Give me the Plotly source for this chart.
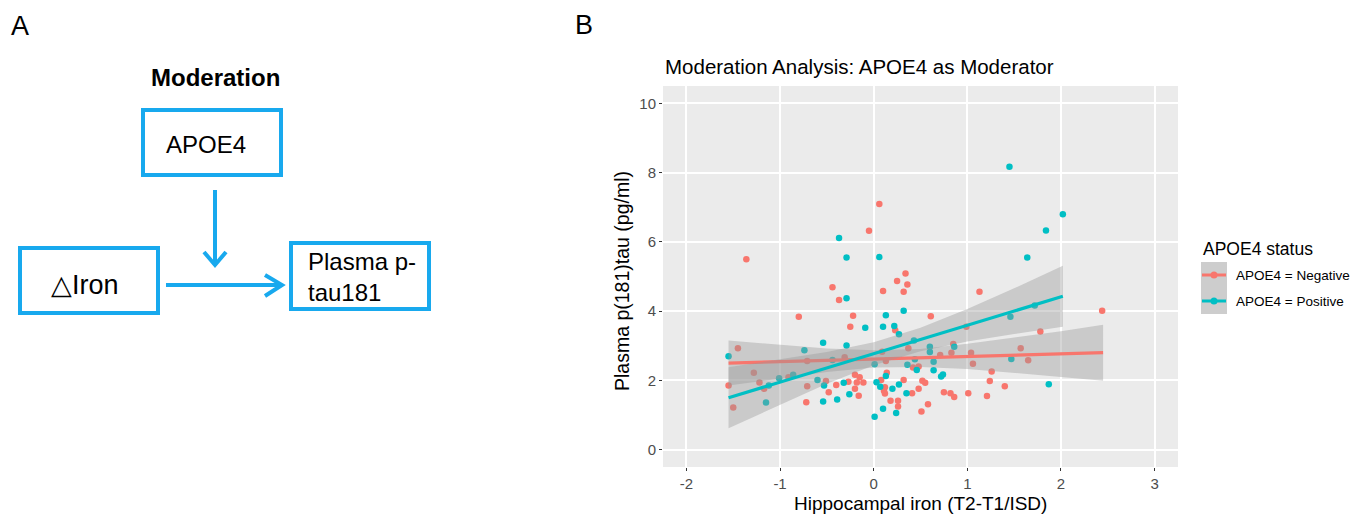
import plotly.graph_objects as go

W, H = 1364, 514

# ---------------- data ----------------
neg_x = [-1.36, 0.06, -0.05, -0.44, 0.34, 0.25, 0.36, 0.10, 0.32, 1.13,
         -0.37, -0.80, -0.22, 0.61, 2.44, -0.25, 0.23, 0.99, 1.78, -1.45,
         0.37, 0.85, 0.83, 0.71, 1.04, 1.57, 1.65, 1.06, -0.71, -0.31,
         0.09, 0.13, -1.28, -1.22, -1.17, -0.91, -1.55, -1.50, -0.51, -0.71,
         -0.40, -0.48, -0.27, -0.20, -0.15, -0.18, -0.11, -0.20, -0.16, -0.72,
         0.08, 0.14, 0.12, 0.11, 0.12, 0.32, 0.18, 0.26, 0.26, 0.48,
         0.42, 1.26, 1.24, 0.52, 0.55, 0.48, 0.41, 1.40, 0.75, 0.82,
         0.86, 1.01, 1.21, 0.58, 0.51]
neg_y = [5.50, 7.09, 6.32, 4.69, 5.09, 4.87, 4.77, 4.58, 4.56, 4.56,
         4.32, 3.84, 3.87, 3.85, 4.01, 3.55, 3.45, 3.55, 3.41, 2.93,
         2.93, 3.05, 2.80, 2.73, 2.80, 2.93, 2.58, 2.48, 2.56, 2.67,
         2.83, 2.56, 2.22, 1.94, 1.76, 2.09, 1.85, 1.22, 1.98, 1.83,
         1.87, 1.66, 1.96, 2.16, 2.09, 1.94, 1.94, 1.76, 1.56, 1.37,
         2.01, 2.22, 1.80, 1.70, 1.62, 2.01, 1.41, 1.41, 1.25, 2.40,
         2.37, 2.26, 1.98, 1.99, 1.93, 1.76, 1.63, 1.83, 1.66, 1.63,
         1.52, 1.63, 1.55, 1.31, 1.10]

pos_x = [-0.37, -0.29, 0.06, 1.45, 2.02, 1.84, 1.64, -0.29, 0.13, 0.32,
         -0.09, 0.10, 0.22, 0.27, -0.54, -0.29, -1.55, -0.74, -0.44, -1.12,
         -1.01, -0.86, -1.15, -0.60, -0.53, -0.32, -0.26, -0.39, -0.54, 0.03,
         0.13, 0.07, 0.20, 0.27, 0.35, 0.24, 0.10, 0.01, 0.01, 1.72,
         1.46, 0.43, 0.60, 0.60, 0.86, 1.47, 0.64, 0.44, 0.46, 0.36,
         0.64, 0.74, 0.72, 1.87]
pos_y = [6.11, 5.55, 5.56, 8.17, 6.80, 6.33, 5.55, 4.37, 3.88, 4.01,
         3.52, 3.55, 3.57, 3.33, 3.09, 3.01, 2.70, 2.87, 2.59, 1.85,
         2.06, 2.16, 1.36, 2.01, 1.85, 1.93, 1.60, 1.45, 1.39, 1.95,
         2.13, 1.82, 1.76, 1.88, 1.63, 1.06, 1.18, 0.95, 2.47, 4.16,
         3.84, 3.15, 2.97, 2.82, 2.97, 2.62, 2.54, 2.61, 2.30, 2.45,
         2.29, 2.17, 2.11, 1.89]

# fitted lines and confidence bands
neg_fit_x = [-1.55, 2.45]
neg_fit_y = [2.50, 2.80]
pos_fit_x = [-1.55, 2.02]
pos_fit_y = [1.50, 4.43]

neg_band_x = [-1.55, -1.0, -0.5, 0.0, 0.5, 1.0, 1.5, 2.0, 2.45]
neg_band_lo = [1.85, 2.06, 2.24, 2.37, 2.39, 2.33, 2.22, 2.10, 1.99]
neg_band_hi = [3.15, 3.02, 2.92, 2.87, 2.91, 3.06, 3.24, 3.42, 3.61]
pos_band_x = [-1.55, -1.0, -0.5, 0.0, 0.5, 1.0, 1.5, 2.02]
pos_band_lo = [0.62, 1.30, 1.90, 2.44, 2.84, 3.12, 3.34, 3.55]
pos_band_hi = [2.38, 2.60, 2.82, 3.10, 3.52, 4.06, 4.66, 5.31]

group_names = ["APOE4 = Negative", "APOE4 = Positive"]
x_ticks = [-2, -1, 0, 1, 2, 3]
y_ticks = [0, 2, 4, 6, 8, 10]

# ---------------- styling ----------------
RED = "#F8766D"
CYAN = "#00BFC4"
BAND = "rgba(153,153,153,0.4)"
BLUE = "#18A9EE"
FONT = "Liberation Sans, Arial, sans-serif"


def fx(p):
    return p / W


def fy(p):
    return 1 - p / H


fig = go.Figure()

# points
fig.add_trace(go.Scatter(x=neg_x, y=neg_y, mode="markers", name=group_names[0],
                         marker=dict(color=RED, size=6.5), showlegend=False))
fig.add_trace(go.Scatter(x=pos_x, y=pos_y, mode="markers", name=group_names[1],
                         marker=dict(color=CYAN, size=6.5), showlegend=False))

# smooth: ribbon then line, per group
for bx, lo, hi, fxs, fys, col, nm in [
    (neg_band_x, neg_band_lo, neg_band_hi, neg_fit_x, neg_fit_y, RED, group_names[0]),
    (pos_band_x, pos_band_lo, pos_band_hi, pos_fit_x, pos_fit_y, CYAN, group_names[1]),
]:
    fig.add_trace(go.Scatter(x=bx + bx[::-1], y=hi + lo[::-1], fill="toself",
                             fillcolor=BAND, line=dict(width=0), mode="lines",
                             hoverinfo="skip", showlegend=False))
    fig.add_trace(go.Scatter(x=fxs, y=fys, mode="lines", line=dict(color=col, width=3.2),
                             name=nm, showlegend=False))

shapes = []
annotations = []

# ---------------- panel A : diagram ----------------
def rect(x0, y0, x1, y1, color=BLUE, width=4, fill="rgba(0,0,0,0)"):
    shapes.append(dict(type="rect", xref="paper", yref="paper",
                       x0=fx(x0), x1=fx(x1), y0=fy(y1), y1=fy(y0),
                       line=dict(color=color, width=width), fillcolor=fill, layer="above"))


def path(points, color=BLUE, width=4):
    d = "M " + " L ".join(f"{fx(a):.5f},{fy(b):.5f}" for a, b in points)
    shapes.append(dict(type="path", xref="paper", yref="paper", path=d,
                       line=dict(color=color, width=width), layer="above"))


rect(143, 110, 281, 175)
rect(20, 248, 158, 313)
rect(291, 243, 429, 309)
path([(215, 190), (215, 264)])
path([(204, 252), (215, 265), (226, 252)])
path([(166, 285), (281, 285)])
path([(265, 275), (282, 285), (265, 296)])


def text(x, y, s, size, xanchor="center", color="black", angle=0, family=FONT):
    annotations.append(dict(xref="paper", yref="paper", x=fx(x), y=fy(y), text=s,
                            showarrow=False, xanchor=xanchor, yanchor="middle",
                            textangle=angle,
                            font=dict(size=size, color=color, family=family)))


text(20, 26, "A", 27)
text(215, 77, "<b>Moderation</b>", 24)
text(164, 144, "APOE4", 24, xanchor="left")
text(49, 285, "\u25b3Iron", 27, xanchor="left")
annotations.append(dict(xref="paper", yref="paper", x=fx(306), y=fy(277),
                        text="Plasma p-<br>tau181", showarrow=False, xanchor="left",
                        yanchor="middle", align="left",
                        font=dict(size=24, color="black", family=FONT)))

# ---------------- panel B labels ----------------
text(584, 25, "B", 27)
text(663, 66, "Moderation Analysis: APOE4 as Moderator", 20.5, xanchor="left")
text(921, 503, "Hippocampal iron (T2-T1/ISD)", 19)
text(622, 281, "Plasma p(181)tau (pg/ml)", 19.5, angle=-90)

# ---------------- legend (ggplot style) ----------------
text(1201, 249, "APOE4 status", 17.5, xanchor="left")
shapes.append(dict(type="rect", xref="paper", yref="paper",
                   x0=fx(1201), x1=fx(1227), y0=fy(314), y1=fy(262),
                   line=dict(width=0), fillcolor="#CDCDCD", layer="above"))
for row_y, col, nm in [(275, RED, group_names[0]), (301, CYAN, group_names[1])]:
    shapes.append(dict(type="line", xref="paper", yref="paper",
                       x0=fx(1202), x1=fx(1226), y0=fy(row_y), y1=fy(row_y),
                       line=dict(color=col, width=3), layer="above"))
    shapes.append(dict(type="circle", xref="paper", yref="paper",
                       x0=fx(1210.5), x1=fx(1217.5), y0=fy(row_y + 3.5), y1=fy(row_y - 3.5),
                       line=dict(width=0), fillcolor=col, layer="above"))
    text(1234, row_y, nm, 13.5, xanchor="left")

axis_common = dict(showgrid=True, gridcolor="white", gridwidth=1.8, zeroline=False,
                   showline=False, ticks="outside", ticklen=3, tickcolor="#333333",
                   tickwidth=1, tickfont=dict(size=15, color="#4D4D4D"), fixedrange=True)

fig.update_layout(
    width=W, height=H,
    margin=dict(l=0, r=0, t=0, b=0),
    paper_bgcolor="white",
    plot_bgcolor="#EBEBEB",
    font=dict(family=FONT, color="black"),
    showlegend=False,
    shapes=shapes,
    annotations=annotations,
    xaxis=dict(domain=[663 / W, 1178 / W], range=[-2.25, 3.25],
               tickmode="array", tickvals=x_ticks, ticktext=[str(v) for v in x_ticks],
               **axis_common),
    yaxis=dict(domain=[1 - 467 / H, 1 - 86 / H], range=[-0.5, 10.5],
               tickmode="array", tickvals=y_ticks, ticktext=[str(v) for v in y_ticks],
               **axis_common),
)

fig.write_html("out.html", config={"displayModeBar": False},
               post_script="document.body.style.margin='0';document.body.style.overflow='hidden';")
